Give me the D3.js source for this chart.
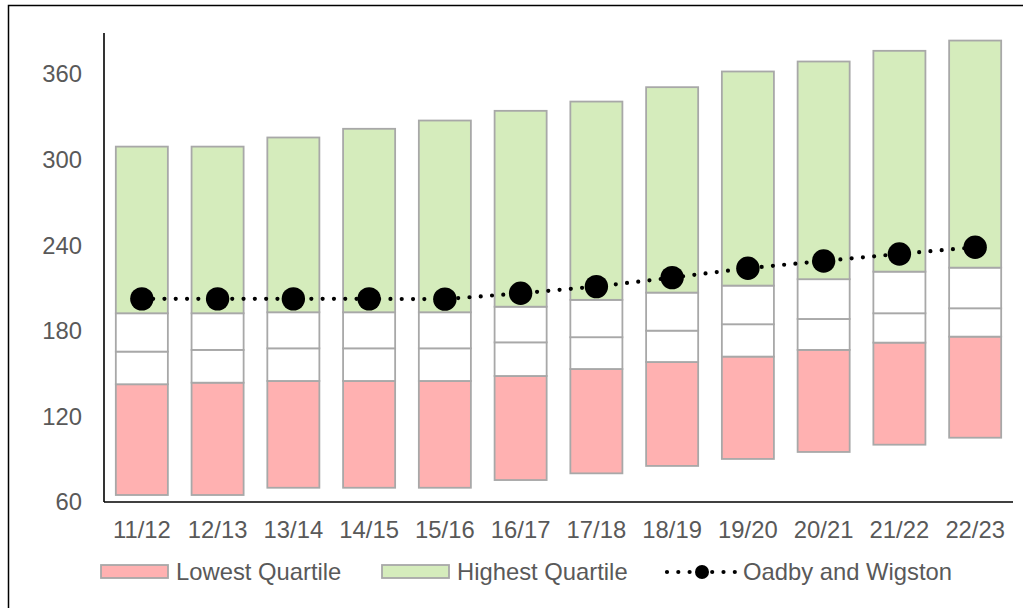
<!DOCTYPE html>
<html>
<head>
<meta charset="utf-8">
<script src="https://cdn.jsdelivr.net/npm/d3@7"></script>
<style>
  html, body { margin: 0; padding: 0; background: #fff; }
  svg { display: block; }
  text { font-family: "Liberation Sans", Arial, sans-serif; fill: #595959; }
</style>
</head>
<body>
<svg id="chart" width="1023" height="608"></svg>
<script>
// Financial years
const years = ["11/12","12/13","13/14","14/15","15/16","16/17","17/18","18/19","19/20","20/21","21/22","22/23"];
// Spread of values across comparator authorities
const minimum       = [64.9, 64.9, 70.0, 70.0, 70.0, 75.4, 80.1, 85.3, 90.2, 95.1, 100.2, 105.1];
const lowerQuartile = [142.6, 143.7, 144.9, 144.9, 144.9, 148.4, 153.3, 158.2, 162.0, 166.7, 171.8, 176.0];
const median        = [165.5, 166.7, 167.8, 167.8, 167.8, 172.0, 175.6, 180.2, 184.7, 188.4, 192.4, 195.9];
const upperQuartile = [192.4, 192.4, 193.1, 193.1, 193.1, 197.0, 201.8, 206.9, 211.8, 216.3, 221.6, 224.4];
const maximum       = [309.3, 309.3, 315.7, 321.8, 327.6, 334.4, 340.9, 351.0, 362.0, 369.0, 376.5, 383.7];
// Local authority
const oadby         = [202.5, 202.5, 202.5, 202.5, 202.3, 206.4, 211.1, 217.4, 224.0, 229.1, 234.0, 238.7];
// Axis
const yTicks = [60, 120, 180, 240, 300, 360];
const yDomain = [60, 389];

const svg = d3.select("#chart");

// outer frame
svg.append("rect")
  .attr("x", 8.5).attr("y", 5.5)
  .attr("width", 1100).attr("height", 700)
  .attr("fill", "none").attr("stroke", "#000").attr("stroke-width", 1.5);

const plot = { left: 104, right: 1013, top: 33, bottom: 502 };

const x = d3.scaleBand().domain(years).range([plot.left, plot.right])
  .paddingInner(0.313).paddingOuter(0.156);
const y = d3.scaleLinear().domain(yDomain).range([plot.bottom, plot.top]);

const rows = years.map((yr, i) => ({
  year: yr,
  segs: [
    { lo: minimum[i], hi: lowerQuartile[i], fill: "#FFB1B1" },
    { lo: lowerQuartile[i], hi: median[i], fill: "#FFFFFF" },
    { lo: median[i], hi: upperQuartile[i], fill: "#FFFFFF" },
    { lo: upperQuartile[i], hi: maximum[i], fill: "#D5ECBC" }
  ]
}));

const g = svg.append("g");
g.selectAll("g.bar").data(rows).join("g").attr("class", "bar")
  .selectAll("rect").data(d => d.segs.map(s => ({ ...s, year: d.year }))).join("rect")
  .attr("x", d => x(d.year))
  .attr("width", x.bandwidth())
  .attr("y", d => y(d.hi))
  .attr("height", d => y(d.lo) - y(d.hi))
  .attr("fill", d => d.fill)
  .attr("stroke", "#A8A8A8")
  .attr("stroke-width", 1.8);

const fontSize = "23.8px";

// axes
const yAxis = svg.append("g").attr("transform", `translate(${plot.left},0)`)
  .call(d3.axisLeft(y).tickValues(yTicks).tickSize(0).tickPadding(22));
yAxis.select(".domain").attr("stroke", "#000").attr("stroke-width", 1.6)
  .attr("d", `M0,${plot.top}V${plot.bottom}`);
yAxis.selectAll("text").style("font-size", fontSize).attr("fill", "#595959");

const xAxis = svg.append("g").attr("transform", `translate(0,${plot.bottom})`)
  .call(d3.axisBottom(x).tickSize(0).tickPadding(19));
xAxis.select(".domain").attr("stroke", "#000").attr("stroke-width", 1.6)
  .attr("d", `M${plot.left},0H${plot.right}`);
xAxis.selectAll("text").style("font-size", fontSize).attr("fill", "#595959");

// Oadby and Wigston line
const cx = (d, i) => x(years[i]) + x.bandwidth() / 2;
const line = d3.line().x((d, i) => cx(d, i)).y(d => y(d));
svg.append("path").datum(oadby)
  .attr("d", line)
  .attr("fill", "none").attr("stroke", "#000")
  .attr("stroke-width", 4.2).attr("stroke-linecap", "round")
  .attr("stroke-dasharray", "0 11.3");
svg.selectAll("circle.pt").data(oadby).join("circle").attr("class", "pt")
  .attr("cx", cx).attr("cy", d => y(d)).attr("r", 11.7).attr("fill", "#000");

// legend
const leg = svg.append("g");
leg.append("rect").attr("x", 101).attr("y", 565).attr("width", 67).attr("height", 13)
  .attr("fill", "#FFB1B1").attr("stroke", "#A8A8A8").attr("stroke-width", 1.8);
leg.append("text").attr("x", 176).attr("y", 580).style("font-size", fontSize).text("Lowest Quartile");
leg.append("rect").attr("x", 382).attr("y", 565).attr("width", 67).attr("height", 13)
  .attr("fill", "#D5ECBC").attr("stroke", "#A8A8A8").attr("stroke-width", 1.8);
leg.append("text").attr("x", 457).attr("y", 580).style("font-size", fontSize).text("Highest Quartile");
leg.append("path").attr("d", "M667,572H736")
  .attr("stroke", "#000").attr("stroke-width", 4.2).attr("stroke-linecap", "round")
  .attr("stroke-dasharray", "0 11.3");
leg.append("circle").attr("cx", 702).attr("cy", 572).attr("r", 7).attr("fill", "#000");
leg.append("text").attr("x", 743).attr("y", 580).style("font-size", fontSize).text("Oadby and Wigston");
</script>
</body>
</html>
